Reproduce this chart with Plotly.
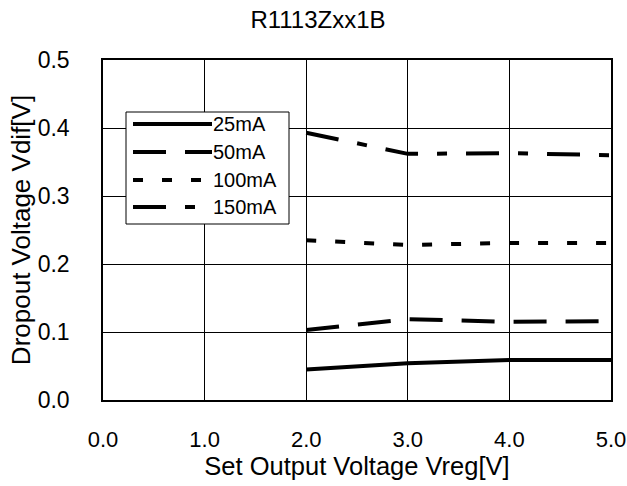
import plotly.graph_objects as go

x_vreg = [2.0, 3.0, 4.0, 5.0]
series_names = ["25mA", "50mA", "100mA", "150mA"]
v_25mA = [0.045, 0.054, 0.059, 0.059]
v_50mA = [0.103, 0.119, 0.115, 0.116]
v_100mA = [0.235, 0.228, 0.231, 0.231]
v_150mA = [0.393, 0.362, 0.363, 0.360]
x_ticks = [0.0, 1.0, 2.0, 3.0, 4.0, 5.0]
y_ticks = [0.0, 0.1, 0.2, 0.3, 0.4, 0.5]

series_values = [v_25mA, v_50mA, v_100mA, v_150mA]
dashes = ["solid", "33px,19px", "10px,19px", "33px,19px,10px,19px"]

FONT = "Liberation Sans, Arial, sans-serif"
W, H = 627, 486
ML, MR, MT, MB = 103, 16, 60, 86
PW, PH = W - ML - MR, H - MT - MB


def px_x(p):
    return (p - ML) / PW


def px_y(p):
    return (H - MB - p) / PH


fig = go.Figure()
for name, vals, dash in zip(series_names, series_values, dashes):
    fig.add_trace(go.Scatter(
        x=x_vreg, y=vals, name=name, mode="lines",
        line=dict(color="black", width=4, dash=dash),
        showlegend=False,
    ))

# custom legend (box, sample lines, labels)
shapes = [dict(type="rect", xref="paper", yref="paper",
               x0=px_x(126), x1=px_x(289), y0=px_y(224), y1=px_y(112),
               line=dict(color="black", width=1), fillcolor="white", layer="above")]
annotations = []
row_y = [124, 152, 180, 207]
for name, dash, ry in zip(series_names, dashes, row_y):
    shapes.append(dict(type="line", xref="paper", yref="paper",
                       x0=px_x(133), x1=px_x(212), y0=px_y(ry), y1=px_y(ry),
                       line=dict(color="black", width=4, dash=dash), layer="above"))
    annotations.append(dict(text=name, xref="paper", yref="paper",
                            x=px_x(211), y=px_y(ry), xanchor="left", yanchor="middle",
                            showarrow=False, font=dict(size=20, family=FONT, color="black")))

fig.update_layout(
    width=W, height=H,
    template="none",
    paper_bgcolor="white", plot_bgcolor="white",
    margin=dict(l=ML, r=MR, t=MT, b=MB, autoexpand=False),
    font=dict(family=FONT, color="black"),
    title=dict(text="R1113Zxx1B", x=318 / W, xref="container", xanchor="center",
               y=1 - 20 / H, yref="container", yanchor="middle",
               font=dict(size=24, family=FONT, color="black")),
    showlegend=False,
    shapes=shapes,
    annotations=annotations,
)
fig.update_xaxes(
    range=[0, 5], tickvals=x_ticks, ticktext=[f"{v:.1f}" for v in x_ticks],
    showgrid=True, gridcolor="black", gridwidth=1,
    showline=True, linecolor="black", linewidth=1.5, mirror=True,
    ticks="", zeroline=False, automargin=False, ticklabelstandoff=19,
    ticklabeloverflow="allow",
    tickfont=dict(size=22, family=FONT, color="black"),
    title=dict(text="Set Output Voltage Vreg[V]", font=dict(size=25.5, family=FONT, color="black"), standoff=0),
)
fig.update_yaxes(
    range=[0, 0.5], tickvals=y_ticks, ticktext=[f"{v:.1f}" for v in y_ticks],
    showgrid=True, gridcolor="black", gridwidth=1,
    showline=True, linecolor="black", linewidth=1.5, mirror=True,
    ticks="", zeroline=False, automargin=False, ticklabelstandoff=27,
    ticklabeloverflow="allow",
    tickfont=dict(size=23, family=FONT, color="black"),
    title=dict(text="Dropout Voltage Vdif[V]", font=dict(size=26, family=FONT, color="black"), standoff=0),
)

fig.write_html("out.html", config={"displayModeBar": False},
               post_script="document.body.style.margin='0';document.body.style.padding='0';")
